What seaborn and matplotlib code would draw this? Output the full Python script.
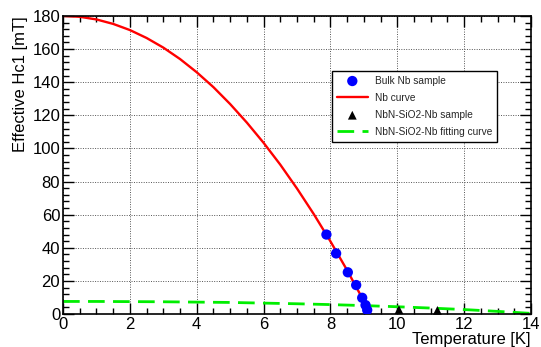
import seaborn as sns
import matplotlib.pyplot as plt
from matplotlib.ticker import MultipleLocator

# bulk Nb measurements
nb_T = [7.88, 8.17, 8.52, 8.77, 8.95, 9.05, 9.10]
nb_H = [48.0, 36.6, 25.2, 17.5, 9.8, 5.4, 2.4]

# Nb curve
nbc_T = [0.0, 0.5, 1.0, 1.5, 2.0, 2.5, 3.0, 3.5, 4.0, 4.5, 5.0, 5.5, 6.0,
         6.5, 7.0, 7.5, 8.0, 8.5, 9.0, 9.2]
nbc_H = [180.0, 179.5, 177.9, 175.2, 171.5, 166.7, 160.9, 154.0, 146.0, 137.0,
         126.8, 115.6, 103.4, 90.2, 75.8, 60.4, 43.9, 26.4, 7.8, 0.0]

# NbN-SiO2-Nb sample
nbn_T = [10.05, 11.2]
nbn_H = [2.6, 2.2]

# NbN-SiO2-Nb fitting curve
fit_T = [0, 1, 2, 3, 4, 5, 6, 7, 8, 9, 10, 11, 12, 13, 14]
fit_H = [7.6, 7.6, 7.5, 7.4, 7.2, 7.0, 6.6, 6.2, 5.7, 5.1, 4.4, 3.6, 2.7, 1.6, 0.4]

sns.set_theme(style='ticks')
plt.rcParams['font.family'] = ['Liberation Sans', 'DejaVu Sans']
plt.rcParams['axes.unicode_minus'] = False

fig = plt.figure(figsize=(5.41, 3.47), dpi=100, facecolor='white')
ax = fig.add_axes([0.1165, 0.095, 0.865, 0.859])
ax.set_facecolor('white')

sns.lineplot(x=fit_T, y=fit_H, color='#00ee00', lw=2.0, ax=ax,
             linestyle=(0, (6, 3)), label='NbN-SiO2-Nb fitting curve')
sns.lineplot(x=nbc_T, y=nbc_H, color='#ff0000', lw=1.7, ax=ax, label='Nb curve')
sns.scatterplot(x=nb_T, y=nb_H, color='#0000ff', s=55, edgecolor='none', ax=ax,
                label='Bulk Nb sample', zorder=3)
sns.scatterplot(x=nbn_T, y=nbn_H, color='black', marker='^', s=40, edgecolor='none',
                ax=ax, label='NbN-SiO2-Nb sample', zorder=3, clip_on=False)

ax.set_xlim(0, 14)
ax.set_ylim(0, 180)
ax.xaxis.set_major_locator(MultipleLocator(2))
ax.xaxis.set_minor_locator(MultipleLocator(0.5))
ax.yaxis.set_major_locator(MultipleLocator(20))
ax.yaxis.set_minor_locator(MultipleLocator(4))
ax.tick_params(which='both', direction='in', top=True, right=True, color='black',
               labelsize=12, labelcolor='black', width=1)
ax.tick_params(which='major', length=8, pad=2)
ax.tick_params(which='minor', length=4)
for sp in ax.spines.values():
    sp.set_edgecolor('black')
    sp.set_linewidth(1.2)
ax.grid(True, which='major', color='#555555', linestyle=(0, (1, 1.5)), linewidth=0.7)

ax.set_xlabel('Temperature [K]', fontsize=12, color='black', loc='right', labelpad=0)
ax.set_ylabel('Effective Hc1 [mT]', fontsize=12, color='black', loc='top', labelpad=3)

h, l = ax.get_legend_handles_labels()
order = ['Bulk Nb sample', 'Nb curve', 'NbN-SiO2-Nb sample', 'NbN-SiO2-Nb fitting curve']
hd = dict(zip(l, h))
leg = ax.legend([hd[k] for k in order], order, loc='lower left',
                bbox_to_anchor=(0.564, 0.56, 0.374, 0.252), mode='expand',
                fontsize=7.3, frameon=True, fancybox=False, borderpad=0.5,
                labelspacing=0.7, handlelength=3.0, handletextpad=0.7)
leg.get_frame().set_edgecolor('black')
leg.get_frame().set_linewidth(1.0)
leg.get_frame().set_alpha(1)

fig.savefig('out.png', dpi=100, facecolor='white')
